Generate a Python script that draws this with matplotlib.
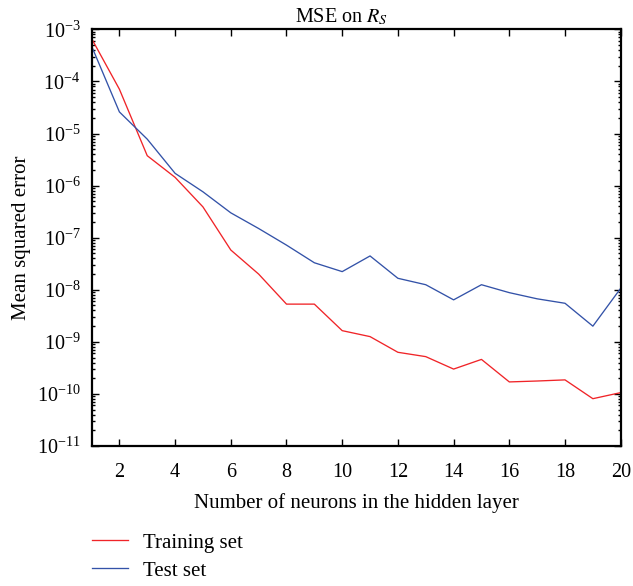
import matplotlib
matplotlib.use("Agg")
import matplotlib.pyplot as plt
from matplotlib.ticker import LogLocator, NullFormatter

neurons = list(range(1, 21))
training_mse = [6.7e-4, 7.1e-5, 3.75e-6, 1.44e-6, 3.9e-7, 5.8e-8, 2.0e-8, 5.3e-9, 5.3e-9, 1.64e-9,
                1.26e-9, 6.3e-10, 5.2e-10, 3.0e-10, 4.6e-10, 1.7e-10, 1.77e-10, 1.86e-10, 8.1e-11, 1.06e-10]
test_mse = [4.8e-4, 2.6e-5, 7.8e-6, 1.72e-6, 7.6e-7, 3.0e-7, 1.5e-7, 7.2e-8, 3.3e-8, 2.23e-8,
            4.46e-8, 1.66e-8, 1.25e-8, 6.4e-9, 1.25e-8, 8.8e-9, 6.7e-9, 5.5e-9, 2.0e-9, 1.07e-8]
x_ticks = [2, 4, 6, 8, 10, 12, 14, 16, 18, 20]

plt.rcParams["font.family"] = ["Liberation Serif", "DejaVu Serif"]
plt.rcParams["mathtext.fontset"] = "stix"
plt.rcParams["font.size"] = 15

fig = plt.figure(figsize=(6.33, 5.86), dpi=100)
ax = fig.add_axes([0.1446, 0.2389, 0.836, 0.711])

ax.plot(neurons, training_mse, color="#f02428", lw=0.95, label="Training set")
ax.plot(neurons, test_mse, color="#3352a8", lw=0.95, label="Test set")

ax.set_yscale("log")
ax.set_xlim(1, 20)
ax.set_ylim(1e-11, 1e-3)
ax.set_xticks(x_ticks)
ax.yaxis.set_major_locator(LogLocator(base=10, numticks=20))
ax.yaxis.set_minor_locator(LogLocator(base=10, subs=range(2, 10), numticks=20))
ax.yaxis.set_minor_formatter(NullFormatter())

ax.tick_params(which="both", direction="in", top=True, right=True, width=1.0, labelsize=14.5)
ax.tick_params(which="major", length=5)
ax.tick_params(axis="x", pad=12)
ax.tick_params(axis="y", pad=8)
ax.tick_params(which="minor", length=2.5)
for spine in ax.spines.values():
  spine.set_linewidth(1.6)

ax.set_title(r"MSE on $R_S$", x=0.472, pad=5, fontsize=14.5)
ax.set_xlabel("Number of neurons in the hidden layer", labelpad=8)
ax.set_ylabel("Mean squared error", labelpad=4)

ax.legend(loc="upper left", bbox_to_anchor=(92 / 633, 1 - 533 / 586), bbox_transform=fig.transFigure,
          frameon=False, borderpad=0, borderaxespad=0, handlelength=1.72, handletextpad=0.72,
          labelspacing=0.4, fontsize=15)

fig.savefig("out.png", dpi=100)
plt.close()
